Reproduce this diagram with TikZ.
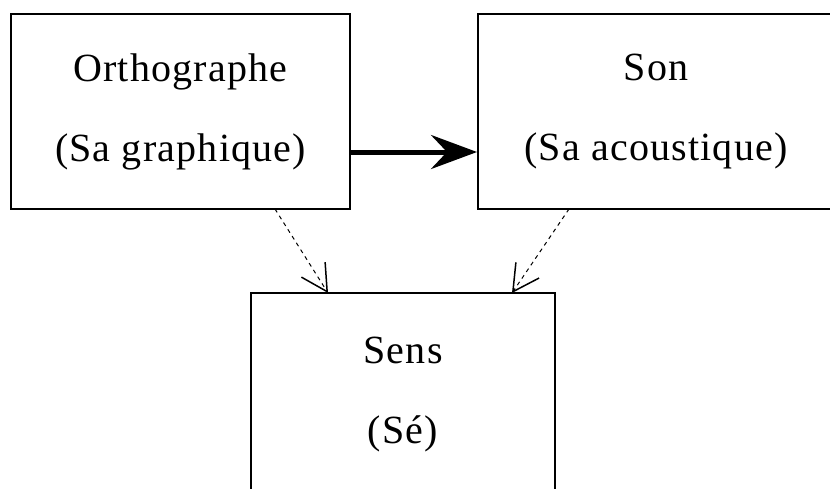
\documentclass[tikz,border=0pt]{standalone}
\usepackage{fontspec}
\setmainfont[LetterSpace=3]{Liberation Serif}
\usetikzlibrary{arrows.meta}
\begin{document}
\begin{tikzpicture}[x=1pt,y=-1pt,
  box/.style={draw,line width=2pt,minimum width=#1,minimum height=200pt,inner sep=0pt,align=center,
    font=\fontsize{40pt}{80pt}\selectfont},
  bigarrow/.style={line width=5pt,-{Stealth[length=46pt,width=34pt,inset=16pt]}},
  dasharrow/.style={line width=1pt,dash pattern=on 4pt off 4pt,-{Straight Barb[length=26pt,width=28pt,line width=1.5pt]}}]
\useasboundingbox (0,0) rectangle (830,488);
\clip (0,0) rectangle (830,488);
\node[box=339pt,minimum height=195pt] (b1) at (180.5,111.5) {Orthographe\\(Sa graphique)};
\node[box=356pt,minimum height=195pt] (b2) at (656,111.5) {Son\\(Sa acoustique)};
\node[box=304pt,minimum height=204pt] (b3) at (403,395) {Sens\\(Sé)};
\coordinate (s1) at (275,209);
\coordinate (e1) at (328,293);
\coordinate (s2) at (569,209);
\coordinate (e2) at (512,293);
\draw[bigarrow] ([yshift=-40.5pt]b1.east) -- ([yshift=-40.5pt]b2.west);
\draw[dasharrow] (s1) -- (e1);
\draw[dasharrow] (s2) -- (e2);
\end{tikzpicture}
\end{document}
